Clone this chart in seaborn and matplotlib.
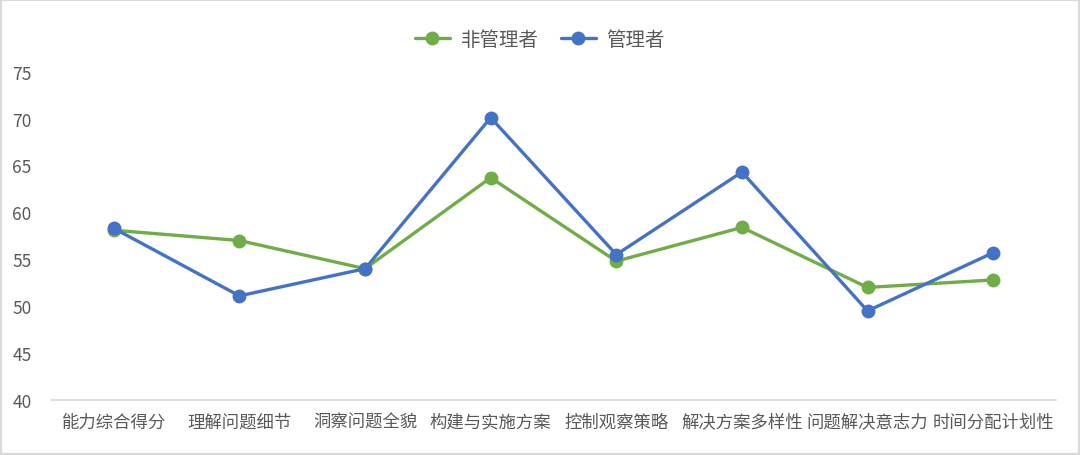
import pandas as pd
import matplotlib
matplotlib.use("Agg")
import matplotlib.pyplot as plt
import seaborn as sns

categories = ["能力综合得分", "理解问题细节", "洞察问题全貌", "构建与实施方案",
              "控制观察策略", "解决方案多样性", "问题解决意志力", "时间分配计划性"]
non_manager = [58.1, 57.0, 54.0, 63.7, 54.8, 58.4, 52.0, 52.8]
manager = [58.3, 51.1, 54.0, 70.1, 55.5, 64.3, 49.5, 55.7]
groups = ["非管理者", "管理者"]

df = pd.DataFrame({
    "cat": categories * 2,
    "x": list(range(len(categories))) * 2,
    "score": non_manager + manager,
    "group": [groups[0]] * len(categories) + [groups[1]] * len(categories),
})

sns.set_style("white")
plt.rcParams['font.family'] = ['Noto Sans CJK SC', 'DejaVu Sans']

fig = plt.figure(figsize=(10.8, 4.56), dpi=100)
ax = fig.add_axes([51 / 1080, 1 - 401 / 456, 1005 / 1080, (401 - 72.7) / 456])

pal = {"非管理者": "#70AD47", "管理者": "#4472C4"}
sns.lineplot(data=df, x="x", y="score", hue="group", hue_order=groups,
             palette=pal, marker="o", markersize=10, linewidth=2.4,
             markeredgewidth=0, ax=ax)

ax.set_xlim(-0.5, len(categories) - 0.5)
ax.set_ylim(40, 75)
ax.set_yticks(range(40, 76, 5))
ax.set_xticks(range(len(categories)))
ax.set_xticklabels(categories)
ax.set_xlabel("")
ax.set_ylabel("")
ax.tick_params(axis="both", length=0, labelsize=12.5, colors="#595959")
ax.tick_params(axis="x", pad=9)
ax.tick_params(axis="y", pad=14)
for s in ["top", "right", "left"]:
    ax.spines[s].set_visible(False)
ax.spines["bottom"].set_color("#D9D9D9")
ax.spines["bottom"].set_linewidth(1.2)
ax.grid(False)

leg = ax.legend(loc="upper center", ncol=2, frameon=False,
                fontsize=14, handlelength=1.8, handletextpad=0.55,
                columnspacing=1.15)
leg.set_bbox_to_anchor((0.5, 1 - 12 / 456), transform=fig.transFigure)
for t in leg.get_texts():
    t.set_color("#595959")

fig.patches.append(plt.Rectangle((0.001, 0.002), 0.998, 0.996, transform=fig.transFigure,
                                 fill=False, edgecolor="#D9D9D9", linewidth=1.5))

fig.savefig("out.png", dpi=100, facecolor="white")
